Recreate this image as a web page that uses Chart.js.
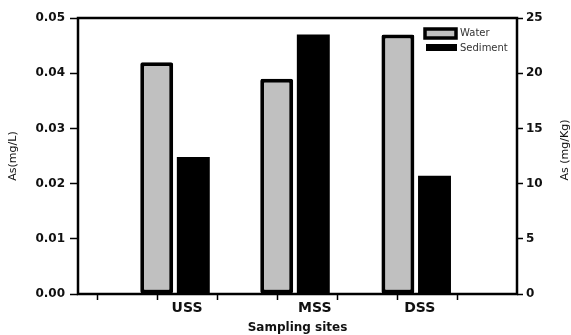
<!DOCTYPE html>
<html>
<head>
<meta charset="utf-8">
<script src="https://cdn.jsdelivr.net/npm/chart.js@4/dist/chart.umd.min.js"></script>
<style>
  html, body { margin: 0; padding: 0; background: #fff; }
  #wrap { width: 571px; height: 335px; }
</style>
</head>
<body>
<div id="wrap"><canvas id="asChart" width="571" height="335"></canvas></div>
<script>
// sampling sites and where they sit on the x scale
var sites = ['USS', 'MSS', 'DSS'];
var siteX = [2.3, 4.3, 6.32];
var siteLabelX = [2.5, 4.63, 6.38];
var xTickMarks = [1, 2, 3, 4, 5, 6, 7];

// As in water (mg/L, left axis) and sediment (mg/Kg, right axis)
var waterAs = [0.042, 0.039, 0.047];
var sedimentAs = [12.4, 23.5, 10.7];

var leftTicks = [0, 0.01, 0.02, 0.03, 0.04, 0.05];
var rightTicks = [0, 5, 10, 15, 20, 25];

var xMin = 0.683, xMax = 8;
var tickFont = { family: 'DejaVu Sans', size: 12, weight: 'bold' };

function points(xs, ys){
	var out = [];
	for(var i = 0; i < xs.length; i++){
		out.push({ x: xs[i], y: ys[i] });
	}
	return out;
}

// frame around the plot, right-hand title and the legend inside the plot
var framePlugin = {
	id: 'frame',
	afterDatasetsDraw: function(chart){
		var ctx = chart.ctx, a = chart.chartArea;
		ctx.save();
		ctx.strokeStyle = '#000';
		ctx.lineWidth = 2.5;
		ctx.strokeRect(a.left, a.top, a.right - a.left, a.bottom - a.top);

		// legend
		var ds = chart.data.datasets;
		var sx = a.right - 93;
		ctx.fillStyle = ds[0].backgroundColor;
		ctx.fillRect(sx + 1, a.top + 11, 31, 9);
		ctx.lineWidth = 3.5;
		ctx.strokeStyle = '#000';
		ctx.strokeRect(sx + 1, a.top + 11, 31, 9);
		ctx.fillStyle = ds[1].backgroundColor;
		ctx.fillRect(sx + 2, a.top + 26, 31, 7);

		ctx.fillStyle = '#333';
		ctx.font = '10px "DejaVu Sans"';
		ctx.textBaseline = 'middle';
		ctx.textAlign = 'left';
		ctx.fillText(ds[0].label, sx + 36, a.top + 15);
		ctx.fillText(ds[1].label, sx + 36, a.top + 30);

		// right axis title, reading bottom to top like the left one
		ctx.translate(565, (a.top + a.bottom) / 2 - 6);
		ctx.rotate(-Math.PI / 2);
		ctx.textAlign = 'center';
		ctx.fillStyle = '#111';
		ctx.font = '11px "DejaVu Sans"';
		ctx.fillText('As (mg/Kg)', 0, 0);
		ctx.restore();
	}
};

var ctx = document.getElementById('asChart').getContext('2d');
new Chart(ctx, {
	type: 'bar',
	data: {
		datasets: [
			{
				label: 'Water',
				data: points(siteX, waterAs),
				backgroundColor: '#c0c0c0',
				borderColor: '#000',
				borderWidth: 4,
				borderRadius: 2,
				borderSkipped: false,
				xAxisID: 'x',
				yAxisID: 'y'
			},{
				label: 'Sediment',
				data: points(siteX, sedimentAs),
				backgroundColor: '#000',
				borderWidth: 0,
				xAxisID: 'x',
				yAxisID: 'y1'
			}
		]
	},
	options: {
		responsive: false,
		animation: false,
		categoryPercentage: 0.61,
		barPercentage: 0.9,
		layout: { padding: { top: 18, left: 0, right: 0, bottom: 0 } },
		plugins: {
			legend: { display: false },
			tooltip: { enabled: false }
		},
		scales: {
			// hidden axis the bars are placed on
			x: {
				type: 'linear',
				display: false,
				offset: false,
				grid: { offset: false },
				min: xMin,
				max: xMax,
				afterBuildTicks: function(scale){
					scale.ticks = siteX.map(function(v){ return { value: v }; });
				}
			},
			// visible bottom axis: tick marks and site names
			x2: {
				type: 'linear',
				axis: 'x',
				position: 'bottom',
				offset: false,
				min: xMin,
				max: xMax,
				border: { display: false },
				grid: {
					offset: false,
					drawOnChartArea: false,
					drawTicks: true,
					tickLength: 6,
					tickWidth: 1.5,
					tickColor: function(c){
						return (c.tick && c.tick.label) ? 'rgba(0,0,0,0)' : '#000';
					}
				},
				afterBuildTicks: function(scale){
					var t = [];
					xTickMarks.forEach(function(v){ t.push({ value: v }); });
					siteLabelX.forEach(function(v){ t.push({ value: v }); });
					t.sort(function(p, q){ return p.value - q.value; });
					scale.ticks = t;
				},
				ticks: {
					autoSkip: false,
					maxRotation: 0,
					padding: 0,
					color: '#111',
					font: { family: 'DejaVu Sans', size: 14, weight: 'bold' },
					callback: function(value){
						var i = siteLabelX.indexOf(value);
						return i >= 0 ? sites[i] : '';
					}
				},
				title: {
					display: true,
					text: 'Sampling sites',
					color: '#111',
					font: { family: 'DejaVu Sans', size: 12, weight: 'bold' },
					padding: { top: 0, bottom: 0 }
				},
				afterFit: function(scale){ scale.height = 41; }
			},
			y: {
				position: 'left',
				min: 0,
				max: 0.05,
				border: { display: false },
				grid: {
					drawOnChartArea: false,
					tickLength: 8,
					tickWidth: 1.5,
					tickColor: '#000'
				},
				afterBuildTicks: function(scale){
					scale.ticks = leftTicks.map(function(v){ return { value: v }; });
				},
				ticks: {
					padding: 5,
					color: '#111',
					font: tickFont,
					callback: function(v){ return Number(v).toFixed(2); }
				},
				title: {
					display: true,
					text: 'As(mg/L)',
					color: '#111',
					font: { family: 'DejaVu Sans', size: 11 },
					padding: { top: 7, bottom: 0 }
				},
				afterFit: function(scale){ scale.width = 78; }
			},
			y1: {
				position: 'right',
				min: 0,
				max: 25,
				border: { display: false },
				grid: {
					drawOnChartArea: false,
					tickLength: 6,
					tickWidth: 1.5,
					tickColor: '#000'
				},
				afterBuildTicks: function(scale){
					scale.ticks = rightTicks.map(function(v){ return { value: v }; });
				},
				ticks: {
					padding: 3,
					color: '#111',
					font: tickFont
				},
				afterFit: function(scale){ scale.width = 54; }
			}
		}
	},
	plugins: [framePlugin]
});
</script>
</body>
</html>
